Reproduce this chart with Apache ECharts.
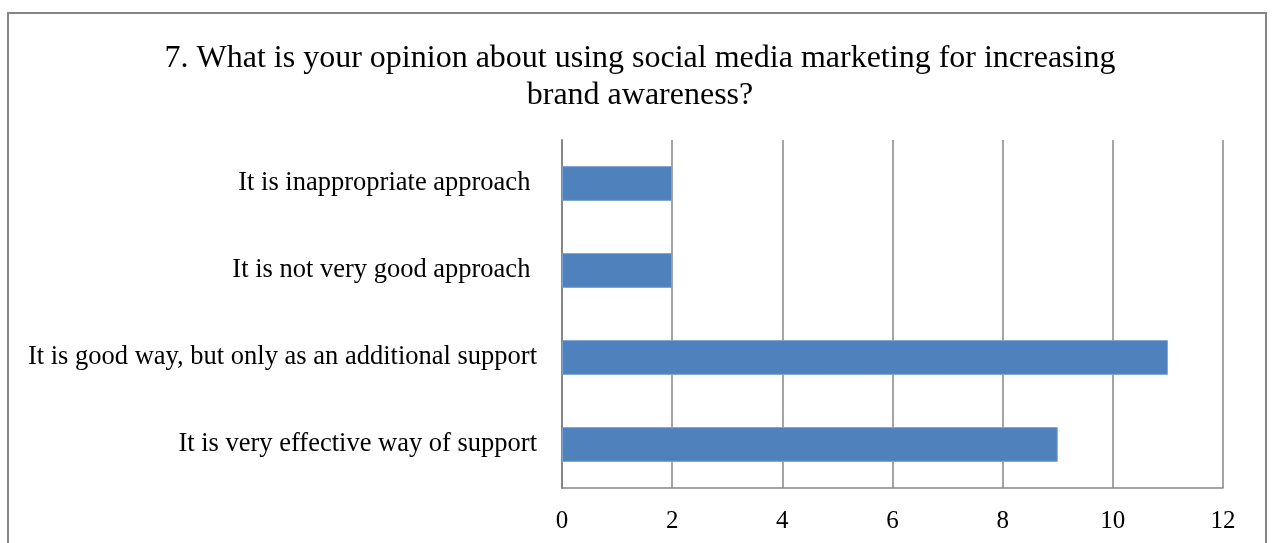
<!DOCTYPE html>
<html>
<head>
<meta charset="utf-8">
<script src="https://cdn.jsdelivr.net/npm/echarts@6/dist/echarts.min.js"></script>
<style>
  html, body { margin: 0; padding: 0; background: #fff; }
  #chart { width: 1272px; height: 543px; }
</style>
</head>
<body>
<div id="chart"></div>
<script>
// Survey answers, top to bottom
const categories = [
  "It is inappropriate approach ",
  "It is not very good approach ",
  "It is good way, but only as an additional support",
  "It is very effective way of support"
];
const responses = [2, 2, 11, 9];
const xTicks = { min: 0, max: 12, interval: 2 };

const serif = "'Liberation Serif', 'Times New Roman', serif";
const gridColor = "#868686";

const chart = echarts.init(document.getElementById("chart"), null, { renderer: "canvas" });
chart.setOption({
  animation: false,
  backgroundColor: "#ffffff",
  graphic: [{
    type: "rect",
    shape: { x: 8, y: 13, width: 1258, height: 620 },
    style: { fill: "none", stroke: gridColor, lineWidth: 2 },
    silent: true
  }],
  title: {
    text: "7. What is your opinion about using social media marketing for increasing\nbrand awareness?",
    left: 635,
    textAlign: "center",
    top: 35,
    textStyle: {
      fontFamily: serif,
      fontSize: 32,
      fontWeight: "normal",
      color: "#000",
      lineHeight: 37
    }
  },
  grid: { left: 562, right: 49, top: 140, bottom: 55, containLabel: false },
  xAxis: {
    type: "value",
    min: xTicks.min,
    max: xTicks.max,
    interval: xTicks.interval,
    axisLine: { show: true, lineStyle: { color: gridColor, width: 1.5 } },
    axisTick: { show: false },
    axisLabel: { fontFamily: serif, fontSize: 25, color: "#000", margin: 21 },
    splitLine: { show: true, lineStyle: { color: gridColor, width: 1.5 } }
  },
  yAxis: {
    type: "category",
    inverse: true,
    data: categories,
    axisLine: { show: true, lineStyle: { color: gridColor, width: 2 } },
    axisTick: { show: false },
    axisLabel: { fontFamily: serif, fontSize: 26.5, color: "#000", margin: 25 }
  },
  series: [{
    type: "bar",
    data: responses,
    barCategoryGap: "60%",
    itemStyle: { color: "#4F81BD", borderColor: "#7FA3D1", borderWidth: 1 }
  }]
});
</script>
</body>
</html>
